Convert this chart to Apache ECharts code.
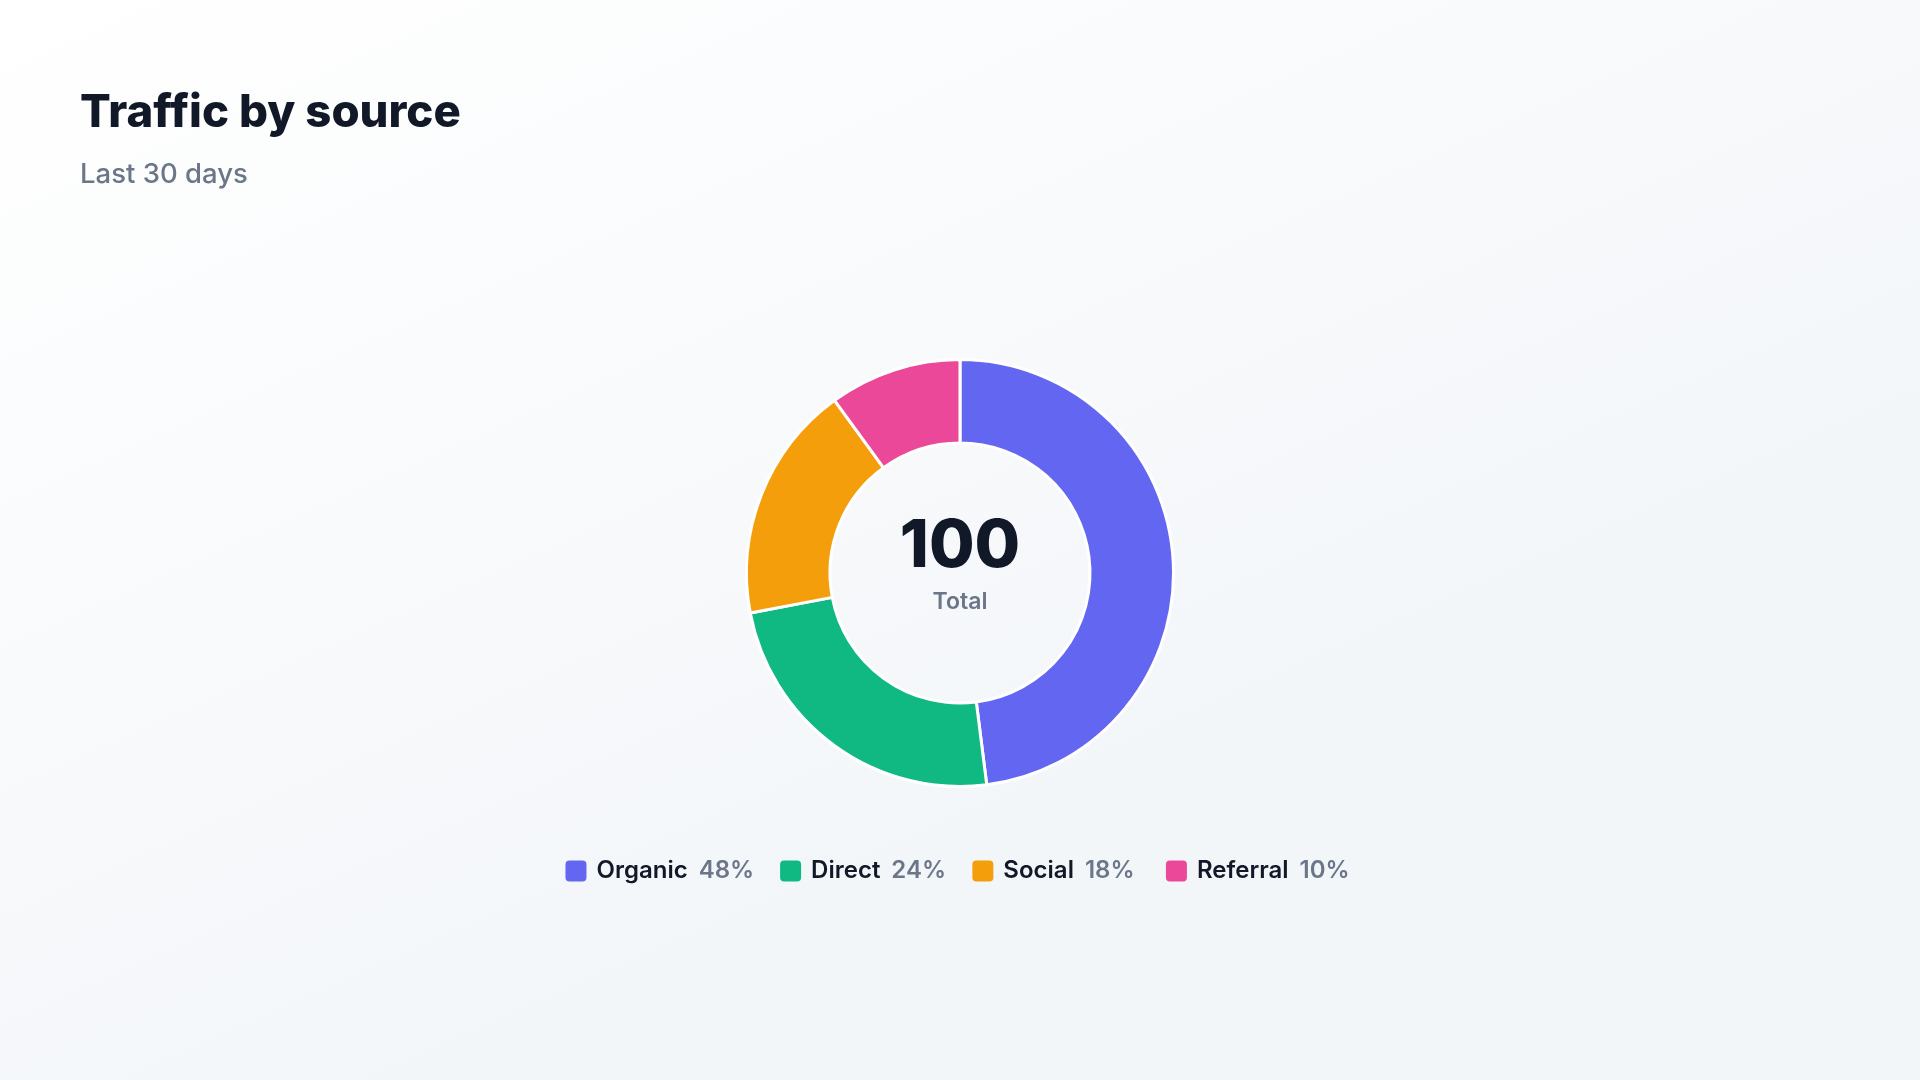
<!DOCTYPE html>
<html>
<head>
<meta charset="utf-8">
<style>
  html, body { margin: 0; padding: 0; width: 1920px; height: 1080px; overflow: hidden; background: #f8fafc; }
  #chart { width: 1920px; height: 1080px; }
</style>
<script src="https://cdn.jsdelivr.net/npm/echarts@6/dist/echarts.min.js"></script>
</head>
<body>
<div id="chart"></div>
<script>
const categories = ['Organic', 'Direct', 'Social', 'Referral'];
const values = [48, 24, 18, 10];
const colors = ['#6366F1', '#10B981', '#F59E0B', '#EC4899'];
const titleText = 'Traffic by source';
const subtitleText = 'Last 30 days';
const centerCaption = 'Total';

const total = values.reduce((a, b) => a + b, 0);
const pctByName = {};
categories.forEach((c, i) => { pctByName[c] = Math.round(values[i] / total * 100); });

const FONT = 'Inter, "Noto Sans", sans-serif';
const chart = echarts.init(document.getElementById('chart'), null, { renderer: 'canvas' });

chart.setOption({
  backgroundColor: {
    type: 'linear', x: 0, y: 0, x2: 0.25, y2: 1,
    colorStops: [{ offset: 0, color: '#ffffff' }, { offset: 1, color: '#f3f6f9' }]
  },
  animation: false,
  color: colors,
  graphic: [
    { type: 'text', left: 80, top: 90, style: { text: titleText, font: '800 45.5px ' + FONT, fill: '#111827' } },
    { type: 'text', left: 80, top: 161, style: { text: subtitleText, font: '500 27.5px ' + FONT, fill: '#6b7789' } },
    { type: 'text', x: 960, y: 547, style: { text: String(total), font: '800 66px ' + FONT, fill: '#111827', align: 'center', verticalAlign: 'middle' } },
    { type: 'text', x: 960, y: 602, style: { text: centerCaption, font: '600 23px ' + FONT, fill: '#6b7789', align: 'center', verticalAlign: 'middle' } }
  ],
  legend: {
    show: true,
    left: 'center',
    top: 854,
    itemWidth: 21,
    itemHeight: 21,
    itemGap: 26,
    icon: 'path://M4,0 L17,0 Q21,0 21,4 L21,17 Q21,21 17,21 L4,21 Q0,21 0,17 L0,4 Q0,0 4,0 Z',
    itemStyle: { borderWidth: 0 },
    data: categories,
    selectedMode: false,
    formatter: function (name) { return '{n|' + name + '}{p|' + pctByName[name] + '%}'; },
    textStyle: {
      rich: {
        n: { fontFamily: FONT, fontSize: 24, fontWeight: 600, color: '#111827', padding: [0, 0, 0, 5], lineHeight: 24 },
        p: { fontFamily: FONT, fontSize: 24, fontWeight: 600, color: '#6b7789', padding: [0, 0, 0, 11], lineHeight: 24, width: 55, align: 'left' }
      }
    }
  },
  series: [{
    type: 'pie',
    center: [960, 573],
    radius: [130, 213.5],
    startAngle: 90,
    clockwise: true,
    avoidLabelOverlap: false,
    label: { show: false },
    labelLine: { show: false },
    emphasis: { disabled: true },
    itemStyle: { borderColor: '#ffffff', borderWidth: 3 },
    data: categories.map((c, i) => ({ name: c, value: values[i] }))
  }]
});
</script>
</body>
</html>
